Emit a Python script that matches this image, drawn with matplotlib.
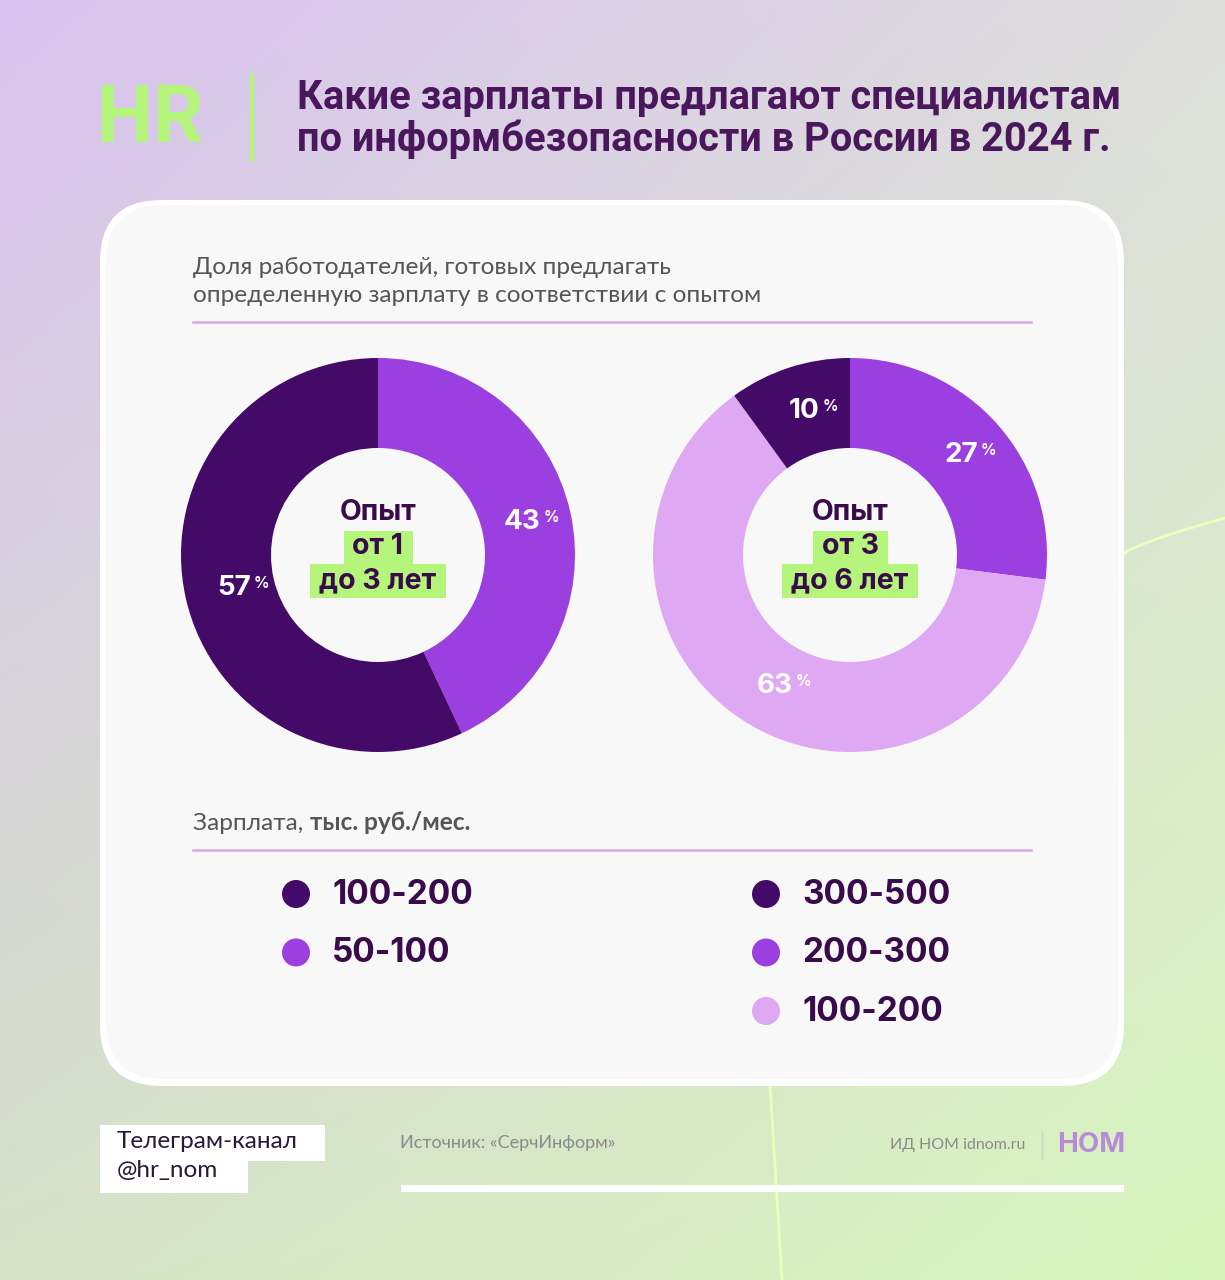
import numpy as np
import matplotlib
matplotlib.use("Agg")
import matplotlib.pyplot as plt
from matplotlib.patches import FancyBboxPatch, Rectangle, Circle

# data
left_labels = ["50-100", "100-200"]
left_values = [43, 57]
right_labels = ["200-300", "100-200", "300-500"]
right_values = [27, 63, 10]
left_legend = ["100-200", "50-100"]
right_legend = ["300-500", "200-300", "100-200"]
left_center = ["Опыт", "от 1", "до 3 лет"]
right_center = ["Опыт", "от 3", "до 6 лет"]

DARK = "#440a68"
PURPLE = "#9b3fe0"
LIGHT = "#dfa8f2"
TEXT = "#3a0b4a"
GREEN = "#b6f57c"
colors_left = {"50-100": PURPLE, "100-200": DARK}
colors_right = {"200-300": PURPLE, "100-200": LIGHT, "300-500": DARK}

W, H = 1225, 1280
fig = plt.figure(figsize=(W / 100, H / 100), dpi=100)
ax = fig.add_axes([0, 0, 1, 1])
ax.set_xlim(0, W)
ax.set_ylim(H, 0)
ax.axis("off")
renderer = fig.canvas.get_renderer()


def text_box(t):
    # text extent in pixel coords of the main axes (y down)
    bb = t.get_window_extent(renderer)
    return bb.x0, H - bb.y1, bb.x1, H - bb.y0


# background gradient
tl = np.array([217, 194, 240]) / 255
tr = np.array([222, 222, 220]) / 255
bl = np.array([214, 226, 200]) / 255
br = np.array([216, 246, 190]) / 255
yy, xx = np.mgrid[0:1:200j, 0:1:200j]
grad = (tl * ((1 - xx) * (1 - yy))[..., None] + tr * (xx * (1 - yy))[..., None]
        + bl * ((1 - xx) * yy)[..., None] + br * (xx * yy)[..., None])
ax.imshow(grad, extent=[0, W, H, 0], aspect="auto", zorder=0)

# decorative faint lines
t = np.linspace(0, 1, 50)
ax.plot(1125 + 100 * t, 553 - 35 * t ** 0.8, color="#eaffc0", lw=2, zorder=1)
ax.plot(770 + 12 * t, 1085 + 195 * t, color="#eaffc0", lw=2, zorder=1)

# card
ax.add_patch(FancyBboxPatch((100, 200), 1024, 886, boxstyle="round,pad=0,rounding_size=62",
                            fc="#ffffff", ec="none", zorder=1))
ax.add_patch(FancyBboxPatch((106, 205), 1012, 874, boxstyle="round,pad=0,rounding_size=58",
                            fc="#f8f8f8", ec="none", zorder=2))

# header
ax.text(97, 120, "HR", fontsize=57, fontweight="bold", color=GREEN, family="Roboto",
        va="center", ha="left", zorder=3)
ax.plot([252, 252], [75, 160], color=GREEN, lw=3, zorder=3)
ax.text(297, 98, "Какие зарплаты предлагают специалистам", fontsize=28.7, fontweight="bold",
        color="#4a175c", family="Roboto", va="center", ha="left", zorder=3)
ax.text(297, 139, "по информбезопасности в России в 2024 г.", fontsize=28.7, fontweight="bold",
        color="#4a175c", family="Roboto", va="center", ha="left", zorder=3)

# subtitle
ax.text(193, 268, "Доля работодателей, готовых предлагать", fontsize=17.6, color="#555555",
        family="Lato", va="center", ha="left", zorder=3)
ax.text(193, 295, "определенную зарплату в соответствии с опытом", fontsize=17.6, color="#555555",
        family="Lato", va="center", ha="left", zorder=3)
ax.plot([193, 1031], [322, 322], color="#d8a8ec", lw=1.8, zorder=3)


def donut(cx, values, labels, cmap, center):
    r = 197
    dax = fig.add_axes([(cx - r) / W, 1 - (555 + r) / H, 2 * r / W, 2 * r / H])
    wedges, _ = dax.pie(values, colors=[cmap[l] for l in labels], startangle=90,
                        counterclock=False, radius=1, wedgeprops=dict(width=1 - 107 / 197, linewidth=0))
    dax.set_xlim(-1, 1)
    dax.set_ylim(-1, 1)
    dax.set_aspect("equal")
    dax.axis("off")
    for w, v in zip(wedges, values):
        ang = np.deg2rad((w.theta1 + w.theta2) / 2)
        x, y = 0.75 * np.cos(ang), 0.77 * np.sin(ang)
        num = dax.text(x, y, str(v), fontsize=20, fontweight="bold", color="white",
                       family="Inter", ha="center", va="center")
        dax.annotate("%", xy=(1, 1), xycoords=num, xytext=(2, -1), textcoords="offset points",
                     fontsize=11, fontweight="bold", color="white", family="Inter",
                     ha="left", va="top")
    # centre text
    ax.text(cx, 513, center[0], fontsize=20.5, fontweight="bold", color=TEXT, family="Inter",
            ha="center", va="center", zorder=5)
    for txt, y, (y0, y1) in [(center[1], 547, (531, 564)), (center[2], 581, (564, 598))]:
        tt = ax.text(cx, y, txt, fontsize=20.5, fontweight="bold", color=TEXT, family="Inter",
                     ha="center", va="center", zorder=5)
        x0, _, x1, _ = text_box(tt)
        ax.add_patch(Rectangle((x0 - 9, y0), x1 - x0 + 18, y1 - y0, fc=GREEN, ec="none", zorder=4))


donut(378, left_values, left_labels, colors_left, left_center)
donut(850, right_values, right_labels, colors_right, right_center)

# legend
t1 = ax.text(193, 823, "Зарплата, ", fontsize=17.6, color="#555555", family="Lato",
             va="center", ha="left", zorder=3)
ax.annotate("тыс. руб./мес.", xy=(1, 0.5), xycoords=t1, fontsize=17.6, color="#555555",
            family="Lato", fontweight="bold", va="center", ha="left", zorder=3)
ax.plot([193, 1031], [850, 850], color="#d8a8ec", lw=1.8, zorder=3)

for i, lab in enumerate(left_legend):
    y = 894 + i * 58.5
    ax.add_patch(Circle((296, y), 14, fc=colors_left[lab], ec="none", zorder=3))
    ax.text(332, y + 1, lab, fontsize=24, fontweight="bold", color=TEXT, family="Inter",
            va="center", ha="left", zorder=3)
for i, lab in enumerate(right_legend):
    y = 894 + i * 58.5
    ax.add_patch(Circle((766, y), 14, fc=colors_right[lab], ec="none", zorder=3))
    ax.text(802, y + 1, lab, fontsize=24, fontweight="bold", color=TEXT, family="Inter",
            va="center", ha="left", zorder=3)

# footer
ax.add_patch(Rectangle((100, 1125), 225, 36, fc="white", ec="none", zorder=3))
ax.add_patch(Rectangle((100, 1158), 148, 35, fc="white", ec="none", zorder=3))
ax.text(117, 1142, "Телеграм-канал", fontsize=17.5, color="#2a1838", family="Lato",
        va="center", ha="left", zorder=4)
ax.text(117, 1170, "@hr_nom", fontsize=17.5, color="#2a1838", family="Lato",
        va="center", ha="left", zorder=4)
ax.text(400, 1143, "Источник: «СерчИнформ»", fontsize=13, color="#8a8a8a", family="Lato",
        va="center", ha="left", zorder=3)
ax.text(1025, 1145, "ИД НОМ idnom.ru", fontsize=11.5, color="#8a8a8a", family="Lato",
        va="center", ha="right", zorder=3)
ax.plot([1042, 1042], [1132, 1158], color="#c8d8c0", lw=1, zorder=3)
ax.text(1125, 1145, "НОМ", fontsize=20, fontweight="bold", color="#b88ad8", family="Inter",
        va="center", ha="right", zorder=3)
ax.add_patch(Rectangle((401, 1185), 723, 7, fc="white", ec="none", zorder=3))

fig.savefig("out.png", dpi=100)
